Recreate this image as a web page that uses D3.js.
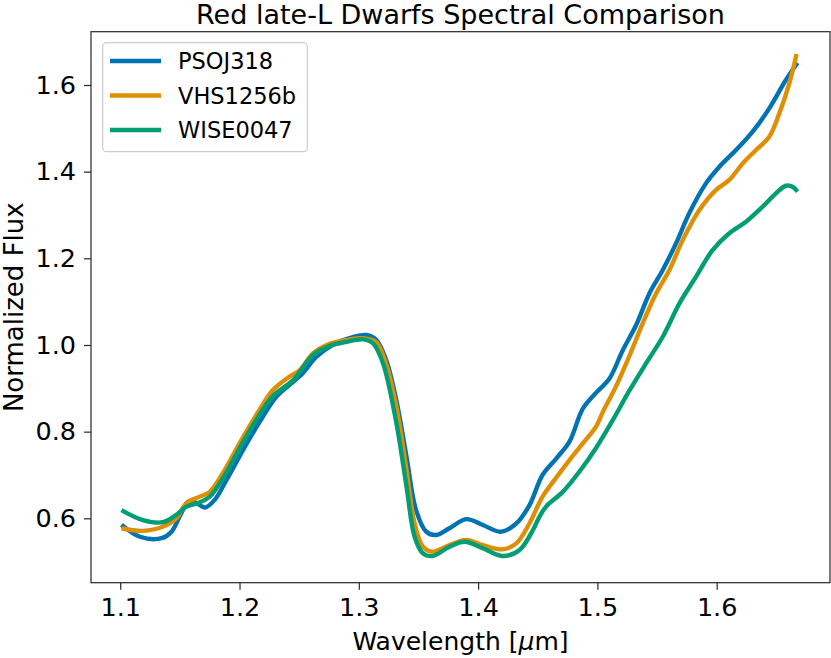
<!DOCTYPE html>
<html>
<head>
<meta charset="utf-8">
<script src="https://cdn.jsdelivr.net/npm/d3@7"></script>
<style>
  body { margin: 0; background: #fff; }
  svg { display: block; font-family: "DejaVu Sans", sans-serif; }
</style>
</head>
<body>
<svg id="chart" width="831" height="658"></svg>
<script>
// data
const names = ['PSOJ318', 'VHS1256b', 'WISE0047'];
const colors = ['#0173B2', '#DE8F05', '#029E73'];

const psoWave = [1.101, 1.1165, 1.1347, 1.143, 1.151, 1.157, 1.164, 1.171, 1.179, 1.189, 1.203, 1.217, 1.231, 1.245, 1.253, 1.2645, 1.278, 1.295, 1.3064, 1.3147, 1.323, 1.3315, 1.34, 1.348, 1.3566, 1.365, 1.376, 1.39, 1.404, 1.419, 1.432, 1.443, 1.454, 1.4655, 1.4766, 1.4878, 1.499, 1.51, 1.5213, 1.5325, 1.5436, 1.5548, 1.566, 1.577, 1.591, 1.6023, 1.6162, 1.63, 1.6441, 1.658, 1.6678];
const psoFlux = [0.585, 0.5575, 0.554, 0.569, 0.611, 0.638, 0.635, 0.625, 0.642, 0.688, 0.758, 0.823, 0.881, 0.915, 0.935, 0.973, 1.0, 1.018, 1.023, 1.0115, 0.965, 0.872, 0.742, 0.619, 0.569, 0.5615, 0.577, 0.598, 0.5845, 0.569, 0.588, 0.63, 0.70, 0.738, 0.777, 0.853, 0.89, 0.922, 0.988, 1.046, 1.119, 1.173, 1.235, 1.304, 1.373, 1.4115, 1.45, 1.492, 1.546, 1.6115, 1.6515];

const vhsWave = [1.101, 1.119, 1.136, 1.147, 1.1556, 1.1667, 1.175, 1.186, 1.2, 1.214, 1.228, 1.242, 1.2505, 1.2617, 1.273, 1.29, 1.3035, 1.3147, 1.323, 1.3315, 1.34, 1.3468, 1.3538, 1.362, 1.376, 1.39, 1.404, 1.4208, 1.432, 1.443, 1.454, 1.4655, 1.4766, 1.4878, 1.499, 1.5045, 1.5157, 1.5269, 1.538, 1.5492, 1.5604, 1.5715, 1.5855, 1.5995, 1.6106, 1.6218, 1.633, 1.6441, 1.6525, 1.6609, 1.667];
const vhsFlux = [0.577, 0.571, 0.581, 0.6, 0.635, 0.65, 0.661, 0.704, 0.773, 0.838, 0.896, 0.927, 0.942, 0.981, 1.0, 1.0115, 1.0155, 1.006, 0.955, 0.8575, 0.7115, 0.588, 0.5345, 0.523, 0.538, 0.55, 0.538, 0.5285, 0.542, 0.588, 0.65, 0.694, 0.7345, 0.773, 0.812, 0.845, 0.905, 0.975, 1.05, 1.119, 1.173, 1.242, 1.3115, 1.358, 1.381, 1.419, 1.45, 1.4805, 1.5345, 1.604, 1.6715];

const wiseWave = [1.101, 1.119, 1.136, 1.147, 1.1556, 1.165, 1.175, 1.186, 1.2, 1.214, 1.228, 1.245, 1.2617, 1.2756, 1.29, 1.3035, 1.312, 1.3203, 1.3315, 1.34, 1.3468, 1.3538, 1.362, 1.376, 1.3887, 1.404, 1.4208, 1.4348, 1.446, 1.4515, 1.457, 1.471, 1.485, 1.499, 1.513, 1.5269, 1.5409, 1.5548, 1.5688, 1.5827, 1.5966, 1.6106, 1.6246, 1.6385, 1.6497, 1.658, 1.6637, 1.6678];
const wiseFlux = [0.619, 0.596, 0.591, 0.608, 0.627, 0.635, 0.65, 0.692, 0.7615, 0.827, 0.882, 0.919, 0.977, 0.998, 1.0075, 1.013, 1.004, 0.958, 0.82, 0.673, 0.5575, 0.519, 0.513, 0.5345, 0.546, 0.531, 0.513, 0.527, 0.573, 0.604, 0.627, 0.661, 0.708, 0.763, 0.827, 0.895, 0.958, 1.019, 1.096, 1.1576, 1.219, 1.258, 1.2845, 1.319, 1.35, 1.3675, 1.365, 1.354];

const xTicks = [1.1, 1.2, 1.3, 1.4, 1.5, 1.6];
const yTicks = [0.6, 0.8, 1.0, 1.2, 1.4, 1.6];

const series = [
  { name: names[0], color: colors[0], wave: psoWave, flux: psoFlux },
  { name: names[1], color: colors[1], wave: vhsWave, flux: vhsFlux },
  { name: names[2], color: colors[2], wave: wiseWave, flux: wiseFlux }
];

const plotL = 91, plotR = 830, plotT = 31.7, plotB = 582.7;

const svg = d3.select('#chart');

const x = d3.scaleLinear()
  .domain([1.0755, 1.695])
  .range([plotL, plotR]);

const y = d3.scaleLinear()
  .domain([0.4514, 1.723])
  .range([plotB, plotT]);

svg.append('defs').append('clipPath')
  .attr('id', 'plot-clip')
  .append('rect')
  .attr('x', plotL).attr('y', plotT)
  .attr('width', plotR - plotL).attr('height', plotB - plotT);

// lines
const line = d3.line()
  .x(d => x(d[0]))
  .y(d => y(d[1]))
  .curve(d3.curveCatmullRom.alpha(0.5));

svg.append('g')
  .attr('clip-path', 'url(#plot-clip)')
  .selectAll('.paths')
  .data(series)
  .join('path')
  .attr('class', 'paths')
  .attr('d', d => line(d.wave.map((w, i) => [w, d.flux[i]])))
  .attr('fill', 'none')
  .attr('stroke', d => d.color)
  .attr('stroke-width', 4.4)
  .attr('stroke-linejoin', 'round')
  .attr('stroke-linecap', 'butt');

// axes
svg.append('g')
  .attr('class', 'axis')
  .attr('transform', 'translate(0,' + plotB + ')')
  .call(d3.axisBottom(x)
    .tickValues(xTicks)
    .tickFormat(d3.format('.1f'))
    .tickSize(7)
    .tickSizeOuter(0)
    .tickPadding(8.5));

svg.append('g')
  .attr('class', 'axis')
  .attr('transform', 'translate(' + plotL + ',0)')
  .call(d3.axisLeft(y)
    .tickValues(yTicks)
    .tickFormat(d3.format('.1f'))
    .tickSize(7)
    .tickSizeOuter(0)
    .tickPadding(8));

svg.selectAll('.axis .domain').remove();
svg.selectAll('.axis .tick line')
  .attr('stroke', '#262626')
  .attr('stroke-width', 1.2);
svg.selectAll('.axis .tick text')
  .attr('fill', '#000')
  .style('font-family', '"DejaVu Sans", sans-serif')
  .style('font-size', '25.5px');

// frame
svg.append('rect')
  .attr('x', plotL).attr('y', plotT)
  .attr('width', plotR - plotL).attr('height', plotB - plotT)
  .attr('fill', 'none')
  .attr('stroke', '#262626')
  .attr('stroke-width', 1.2);

// title and axis labels
svg.append('text')
  .attr('x', (plotL + plotR) / 2)
  .attr('y', 23.5)
  .attr('text-anchor', 'middle')
  .style('font-size', '27px')
  .text('Red late-L Dwarfs Spectral Comparison');

svg.append('text')
  .attr('x', (plotL + plotR) / 2)
  .attr('y', 650)
  .attr('text-anchor', 'middle')
  .style('font-size', '25px')
  .html('Wavelength [<tspan font-style="italic">μ</tspan>m]');

svg.append('text')
  .attr('transform', 'translate(22.5,' + ((plotT + plotB) / 2) + ') rotate(-90)')
  .attr('text-anchor', 'middle')
  .style('font-size', '26px')
  .text('Normalized Flux');

// legend
const legend = svg.append('g').attr('class', 'legend');

legend.append('rect')
  .attr('x', 102.7).attr('y', 42.7)
  .attr('width', 204.6).attr('height', 109)
  .attr('rx', 4)
  .attr('fill', '#fff')
  .attr('fill-opacity', 0.8)
  .attr('stroke', '#cccccc')
  .attr('stroke-width', 1.2);

const rows = legend.selectAll('.legend-row')
  .data(series)
  .join('g')
  .attr('class', 'legend-row')
  .attr('transform', (d, i) => 'translate(0,' + (61 + i * 34.5) + ')');

rows.append('line')
  .attr('x1', 110).attr('x2', 161)
  .attr('stroke', d => d.color)
  .attr('stroke-width', 4.4);

rows.append('text')
  .attr('x', 178)
  .attr('dy', '0.36em')
  .style('font-size', '22.5px')
  .text(d => d.name);
</script>
</body>
</html>
